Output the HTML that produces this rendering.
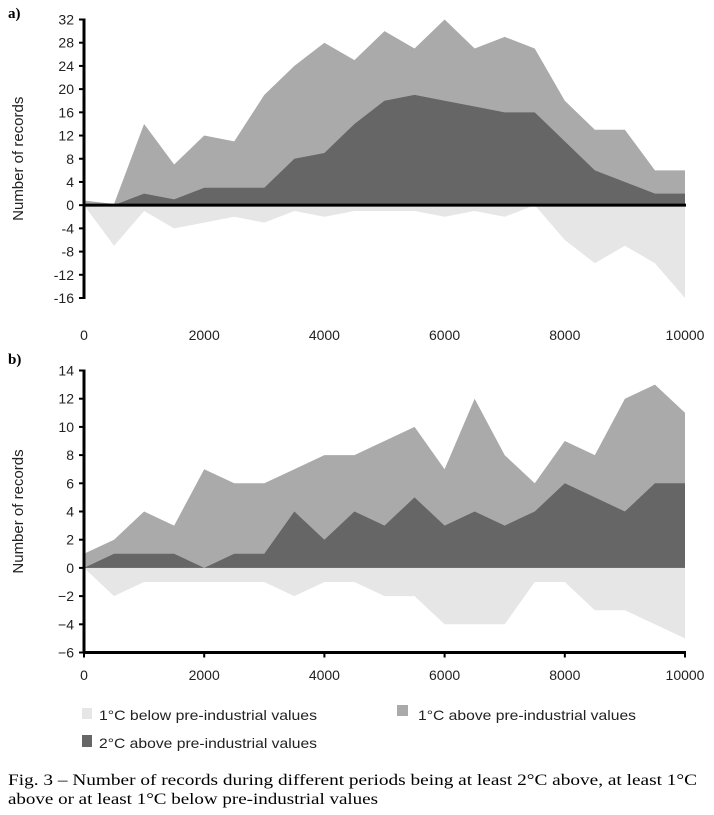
<!DOCTYPE html>
<html><head><meta charset="utf-8"><style>
body{margin:0;background:#fff;width:714px;height:810px;overflow:hidden}
svg text{font-family:"Liberation Sans",sans-serif}
</style></head><body>
<svg id="s" width="714" height="810">
<text x="8" y="18" font-weight="bold" font-size="15" style="font-family:'Liberation Serif',serif">a)</text>
<text x="8" y="364" font-weight="bold" font-size="15" style="font-family:'Liberation Serif',serif">b)</text>
<g id="ga"></g>
<g id="gb"></g>
<g>
<rect x="82" y="708" width="10" height="11" fill="#e6e6e6"/>
<text x="99" y="720" font-size="14" fill="#222" textLength="218" lengthAdjust="spacingAndGlyphs">1°C below pre-industrial values</text>
<rect x="397" y="705" width="11" height="11" fill="#aaaaaa"/>
<text x="418" y="720" font-size="14" fill="#222" textLength="218" lengthAdjust="spacingAndGlyphs">1°C above pre-industrial values</text>
<rect x="82" y="735" width="10" height="12" fill="#666666"/>
<text x="99" y="748" font-size="14" fill="#222" textLength="218" lengthAdjust="spacingAndGlyphs">2°C above pre-industrial values</text>
</g>
<text x="8" y="785" font-size="16" textLength="689" lengthAdjust="spacingAndGlyphs" style="font-family:'Liberation Serif',serif">Fig. 3 – Number of records during different periods being at least 2°C above, at least 1°C</text>
<text x="8" y="804" font-size="16" textLength="370" lengthAdjust="spacingAndGlyphs" style="font-family:'Liberation Serif',serif">above or at least 1°C below pre-industrial values</text>
</svg>
<script>
const years=[0,500,1000,1500,2000,2500,3000,3500,4000,4500,5000,5500,6000,6500,7000,7500,8000,8500,9000,9500,10000];
const aAbove1=[0.8,0.2,14,7,12,11,19,24,28,25,30,27,32,27,29,27,18,13,13,6,6];
const aAbove2=[0,0,2,1,3,3,3,8,9,14,18,19,18,17,16,16,11,6,4,2,2];
const aBelow=[0,-7,-1,-4,-3,-2,-3,-1,-2,-1,-1,-1,-2,-1,-2,0,-6,-10,-7,-10,-16];
const aTicks=[32,28,24,20,16,12,8,4,0,-4,-8,-12,-16];
const bAbove1=[1,2,4,3,7,6,6,7,8,8,9,10,7,12,8,6,9,8,12,13,11];
const bAbove2=[0,1,1,1,0,1,1,4,2,4,3,5,3,4,3,4,6,5,4,6,6];
const bBelow=[0,-2,-1,-1,-1,-1,-1,-2,-1,-1,-2,-2,-4,-4,-4,-1,-1,-3,-3,-4,-5];
const bTicks=[14,12,10,8,6,4,2,0,-2,-4,-6];
const xTicks=[0,2000,4000,6000,8000,10000];
const NS="http://www.w3.org/2000/svg";
function mk(g,t,at){const e=document.createElementNS(NS,t);for(const k in at)e.setAttribute(k,at[k]);g.appendChild(e);return e;}
function draw(g,cfg){
  const X=v=>84+(v/10000)*601;
  const Y=v=>cfg.y0+(cfg.vmax-v)/(cfg.vmax-cfg.vmin)*(cfg.y1-cfg.y0);
  const area=(vals,col,name)=>{let d=`M${X(years[0])},${Y(0)}`;vals.forEach((v,i)=>d+=`L${X(years[i])},${Y(v)}`);d+=`L${X(years[years.length-1])},${Y(0)}Z`;
    const p=mk(g,'path',{d:d,fill:col});
    
    };
  area(cfg.below,'#e6e6e6','area-1c-below');
  area(cfg.a1,'#aaaaaa','area-1c-above');
  area(cfg.a2,'#666666','area-2c-above');
  const ax=mk(g,'line',{x1:84,x2:84,y1:Y(cfg.vmax)-1,y2:Y(cfg.vmin)+1,stroke:'#000','stroke-width':3});
  
  
  cfg.ticks.forEach(t=>{mk(g,'line',{x1:79,x2:84,y1:Y(t),y2:Y(t),stroke:'#000','stroke-width':2});
    const tx=mk(g,'text',{x:74,y:Y(t)+5,'text-anchor':'end','font-size':14,fill:'#222'});tx.textContent=cfg.neg&&t<0?'−'+(-t):t;
    
    });
  const zy=cfg.axisAtZero?Y(0):Y(cfg.vmin);
  const xl=mk(g,'line',{x1:83,x2:686,y1:zy,y2:zy,stroke:'#000','stroke-width':3});
  
  
  xTicks.forEach(t=>{if(!cfg.axisAtZero)mk(g,'line',{x1:X(t),x2:X(t),y1:zy,y2:zy+5,stroke:'#000','stroke-width':2});
    const tx=mk(g,'text',{x:X(t),y:cfg.xly,'text-anchor':'middle','font-size':14,fill:'#222'});tx.textContent=t;
    
    });
  const yc=(Y(cfg.vmax)+Y(cfg.vmin))/2;
  const tt=mk(g,'text',{x:23,y:yc,'text-anchor':'middle','font-size':15,fill:'#222',transform:`rotate(-90 23 ${yc})`});tt.textContent='Number of records';
  
  
}
draw(document.getElementById('ga'),{a1:aAbove1,a2:aAbove2,below:aBelow,ticks:aTicks,vmax:32,vmin:-16,y0:19.5,y1:298,axisAtZero:true,xly:340,neg:false});
draw(document.getElementById('gb'),{a1:bAbove1,a2:bAbove2,below:bBelow,ticks:bTicks,vmax:14,vmin:-6,y0:370.5,y1:652.5,axisAtZero:false,xly:680,neg:true});
</script>
</body></html>
